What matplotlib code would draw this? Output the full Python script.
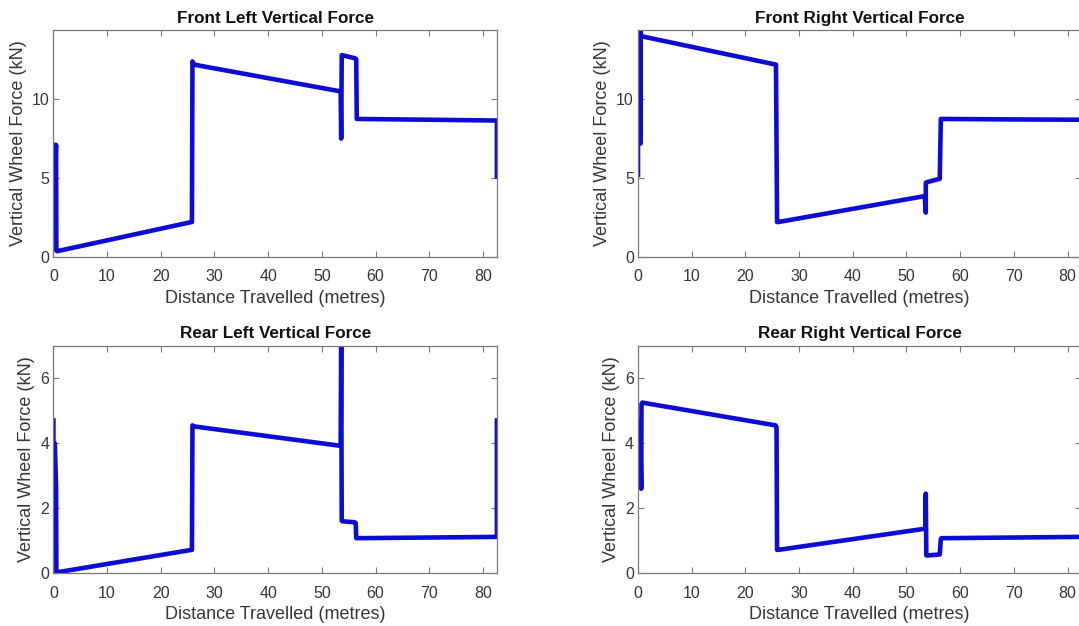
import matplotlib
matplotlib.use("Agg")
import matplotlib.pyplot as plt

plt.rcParams['font.family'] = ['Liberation Sans', 'DejaVu Sans']

# ---------------- data ----------------
titles = ["Front Left Vertical Force", "Front Right Vertical Force",
          "Rear Left Vertical Force", "Rear Right Vertical Force"]
xlabel = "Distance Travelled (metres)"
ylabel = "Vertical Wheel Force (kN)"

fl_x = [0.0, 0.0, 0.25, 0.25, 0.5, 0.55, 0.7, 25.7, 25.8, 25.9, 26.2, 53.5, 53.6, 53.7, 53.8, 56.2, 56.4, 56.5, 70.0, 82.6, 82.6]
fl_y = [5.1, 7.1, 7.1, 5.1, 7.1, 0.4, 0.35, 2.2, 2.2, 12.4, 12.2, 10.5, 7.5, 12.8, 12.8, 12.6, 12.55, 8.75, 8.7, 8.65, 5.1]

fr_x = [0.0, 0.0, 0.5, 0.5, 0.55, 0.7, 25.7, 25.9, 26.1, 53.4, 53.6, 53.6, 54.0, 56.2, 56.4, 56.5, 70.0, 82.6]
fr_y = [5.2, 7.2, 7.2, 14.4, 14.0, 14.0, 12.2, 2.2, 2.2, 3.85, 2.8, 4.7, 4.75, 4.95, 8.75, 8.75, 8.72, 8.7]

rl_x = [0.0, 0.0, 0.25, 0.25, 0.5, 0.55, 0.7, 25.7, 25.8, 25.9, 26.1, 53.5, 53.6, 53.7, 53.8, 56.1, 56.3, 56.4, 70.0, 82.6, 82.6]
rl_y = [4.7, 2.65, 2.65, 4.0, 2.65, 0.05, 0.03, 0.72, 0.72, 4.55, 4.52, 3.92, 7.0, 1.62, 1.6, 1.57, 1.55, 1.08, 1.1, 1.12, 4.7]

rr_x = [0.0, 0.0, 0.2, 0.2, 0.4, 0.4, 0.6, 0.65, 0.8, 25.6, 25.8, 25.9, 26.1, 53.4, 53.5, 53.6, 53.7, 54.0, 56.2, 56.4, 56.5, 70.0, 82.6]
rr_y = [2.65, 4.7, 4.7, 2.65, 2.65, 4.7, 2.6, 5.2, 5.25, 4.55, 4.5, 0.72, 0.72, 1.37, 1.37, 2.45, 0.55, 0.55, 0.58, 1.05, 1.08, 1.1, 1.12]

xticks = [0, 10, 20, 30, 40, 50, 60, 70, 80]
front_yticks = [0, 5, 10]
rear_yticks = [0, 2, 4, 6]
xmax = 82.6
front_ymax = 14.4
rear_ymax = 7.0

# ---------------- figure ----------------
W, H = 1079, 626
fig = plt.figure(figsize=(W / 100, H / 100), dpi=100)
fig.patch.set_facecolor('white')

def px_axes(left, top, right, bottom):
    return fig.add_axes([left / W, 1 - bottom / H, (right - left) / W, (bottom - top) / H])

ax_w = 443.5
positions = [
    (53.4, 30.0, 53.4 + ax_w, 256.7),
    (638.0, 30.0, 638.0 + ax_w, 256.7),
    (53.4, 345.7, 53.4 + ax_w, 573.3),
    (638.0, 345.7, 638.0 + ax_w, 573.3),
]
series = [(fl_x, fl_y), (fr_x, fr_y), (rl_x, rl_y), (rr_x, rr_y)]
spine_col = '#7a7a7a'
text_col = '#363636'
line_col = '#0c0cd4'

for i, (pos, (xs, ys), title) in enumerate(zip(positions, series, titles)):
    ax = px_axes(*pos)
    ax.plot(xs, ys, color=line_col, lw=3.3, solid_joinstyle='round', clip_on=True)
    ax.set_xlim(0, xmax)
    if i < 2:
        ax.set_ylim(0, front_ymax)
        ax.set_yticks(front_yticks)
    else:
        ax.set_ylim(0, rear_ymax)
        ax.set_yticks(rear_yticks)
    ax.set_xticks(xticks)
    ax.tick_params(direction='in', length=4, width=0.8, color=spine_col,
                   top=True, right=True, labelsize=11.5, labelcolor=text_col)
    ax.tick_params(axis='x', pad=9.0)
    ax.tick_params(axis='y', pad=3)
    for s in ax.spines.values():
        s.set_color(spine_col)
        s.set_linewidth(0.9)
    ax.set_title(title, fontsize=12.3, fontweight='bold', color='#111111', pad=5.3)
    ax.set_xlabel(xlabel, fontsize=13, color=text_col, labelpad=4.0)
    ax.set_ylabel(ylabel, fontsize=13, color=text_col, labelpad=3.5)

fig.savefig("out.png", dpi=100, facecolor='white')
